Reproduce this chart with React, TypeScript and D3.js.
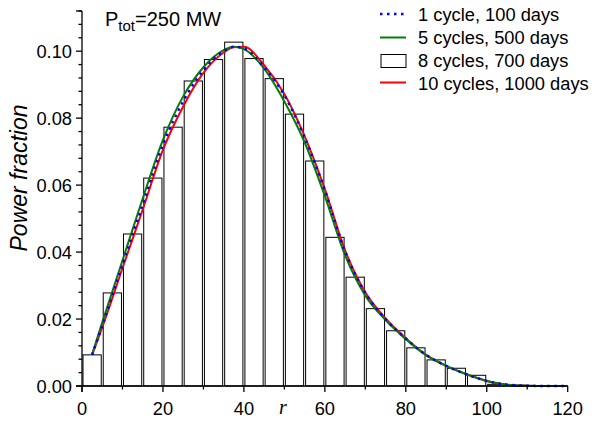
import React from "react";
import * as d3 from "d3";

const binStarts = [0, 5, 10, 15, 20, 25, 30, 35, 40, 45, 50, 55, 60, 65, 70, 75, 80, 85, 90, 95, 100, 105, 110, 115];
const binWidth = 5;
const hist8 = [0.0093, 0.0278, 0.0454, 0.0621, 0.0773, 0.0911, 0.0975, 0.1027, 0.0978, 0.0918, 0.0812, 0.0672, 0.0444, 0.0325, 0.0231, 0.0165, 0.0114, 0.0078, 0.0053, 0.0032, 0.0005, 0.0001, 0, 0];

const rPoints = [2.5, 5, 10, 15, 20, 25, 30, 35, 37.5, 40, 45, 50, 55, 60, 65, 70, 75, 80, 85, 90, 95, 100, 105, 110, 115, 120];
const cyc1 = [0.0093, 0.018, 0.0362, 0.0542, 0.072, 0.085, 0.0943, 0.1, 0.1013, 0.1008, 0.0952, 0.0868, 0.0743, 0.0585, 0.0402, 0.0278, 0.02, 0.0142, 0.0093, 0.006, 0.0035, 0.0015, 0.0004, 0.0001, 0, 0];
const cyc5 = [0.0095, 0.019, 0.0375, 0.056, 0.0735, 0.0865, 0.0952, 0.1003, 0.1013, 0.1006, 0.0948, 0.085, 0.0728, 0.0567, 0.039, 0.027, 0.0197, 0.014, 0.0092, 0.006, 0.0035, 0.0015, 0.0004, 0.0001, 0, 0];
const cyc10 = [0.0093, 0.0175, 0.0352, 0.0527, 0.0705, 0.0835, 0.0935, 0.0996, 0.1012, 0.1013, 0.0958, 0.0872, 0.0746, 0.0588, 0.0405, 0.028, 0.0202, 0.0143, 0.0093, 0.006, 0.0035, 0.0015, 0.0004, 0.0001, 0, 0];

const xMajor = [0, 20, 40, 60, 80, 100, 120];
const xMinor = [10, 30, 50, 70, 90, 110];
const yMajor = [0, 0.02, 0.04, 0.06, 0.08, 0.1];
const yMinorStep = 0.004;

const legendLabels = ["1 cycle, 100 days", "5 cycles, 500 days", "8 cycles, 700 days", "10 cycles, 1000 days"];

const W = 607, H = 421;
const X0 = 82, X1 = 567.7, Y0 = 386, Y1 = 11;
const FONT = "'Liberation Sans', Arial, sans-serif";

export default function App() {
  const x = d3.scaleLinear().domain([0, 120]).range([X0, X1]);
  const y = d3.scaleLinear().domain([0, 0.112]).range([Y0, Y1]);
  const line = (vals: number[]) =>
    d3.line<number>().x((_, i) => x(rPoints[i])).y((v) => y(v)).curve(d3.curveMonotoneX)(vals) || "";

  const yMinor = d3.range(0, 0.1121, yMinorStep).filter((v) => Math.abs(v / 0.02 - Math.round(v / 0.02)) > 1e-6);

  return (
    <div style={{ position: "absolute", left: 0, top: 0 }}>
      <svg width={W} height={H} style={{ display: "block", background: "#fff" }}>
        {/* bars */}
        {binStarts.map((b, i) => {
          const xa = x(b) + 1, xb = x(b + binWidth) - 1;
          return (
            <rect key={i} x={xa} y={y(hist8[i])} width={xb - xa} height={Y0 - y(hist8[i])}
              fill="#fff" stroke="#000" strokeWidth={1} />
          );
        })}
        {/* curves */}
        <path d={line(cyc10)} fill="none" stroke="#ff0000" strokeWidth={2} />
        <path d={line(cyc5)} fill="none" stroke="#008000" strokeWidth={2} />
        <path d={line(cyc1)} fill="none" stroke="#0000ff" strokeWidth={2.5} strokeDasharray="2.5 4.5" />

        {/* axes */}
        <line x1={X0} x2={X0} y1={Y1} y2={Y0 + 6} stroke="#000" strokeWidth={1.3} />
        <line x1={X0 - 6} x2={X1} y1={Y0} y2={Y0} stroke="#000" strokeWidth={1.3} />
        {xMajor.map((v) => (
          <g key={"xm" + v}>
            <line x1={x(v)} x2={x(v)} y1={Y0} y2={Y0 + 6} stroke="#000" strokeWidth={1.3} />
            <text x={x(v)} y={415} textAnchor="middle" fontFamily={FONT} fontSize={18.3}>{v}</text>
          </g>
        ))}
        {xMinor.map((v) => (
          <line key={"xn" + v} x1={x(v)} x2={x(v)} y1={Y0} y2={Y0 + 3.5} stroke="#000" strokeWidth={1.3} />
        ))}
        {yMajor.map((v) => (
          <g key={"ym" + v}>
            <line x1={X0 - 6} x2={X0} y1={y(v)} y2={y(v)} stroke="#000" strokeWidth={1.3} />
            <text x={72} y={y(v) + 6.5} textAnchor="end" fontFamily={FONT} fontSize={18.3}>{v.toFixed(2)}</text>
          </g>
        ))}
        {yMinor.map((v, i) => (
          <line key={"yn" + i} x1={X0 - 3.5} x2={X0} y1={y(v)} y2={y(v)} stroke="#000" strokeWidth={1.3} />
        ))}
        <line x1={X0 - 6} x2={X0} y1={Y1} y2={Y1} stroke="#000" strokeWidth={1.3} />

        {/* axis titles */}
        <text x={283} y={414} textAnchor="middle" fontFamily="'Liberation Serif', 'Times New Roman', serif" fontStyle="italic" fontSize={20}>r</text>
        <text transform="translate(27,178) rotate(-90)" textAnchor="middle" fontFamily={FONT} fontStyle="italic" fontSize={23}>Power fraction</text>

        {/* annotation */}
        <text x={105} y={26} fontFamily={FONT} fontSize={20}>
          P<tspan fontSize={15} dy={5}>tot</tspan><tspan dy={-5}>=250 MW</tspan>
        </text>

        {/* legend */}
        <line x1={380} x2={406} y1={14} y2={14} stroke="#0000ff" strokeWidth={2.5} strokeDasharray="2.5 4.5" />
        <line x1={380} x2={406} y1={37.5} y2={37.5} stroke="#008000" strokeWidth={2} />
        <rect x={381} y={54.5} width={25} height={13} fill="#fff" stroke="#000" strokeWidth={1} />
        <line x1={380} x2={406} y1={82.5} y2={82.5} stroke="#ff0000" strokeWidth={2} />
        {legendLabels.map((t, i) => (
          <text key={t} x={418} y={20.5 + i * 23} fontFamily={FONT} fontSize={18.3}>{t}</text>
        ))}
      </svg>
    </div>
  );
}
